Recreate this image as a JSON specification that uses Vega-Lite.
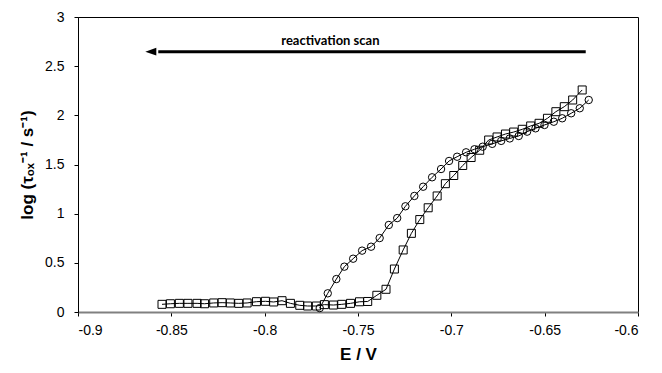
{
  "$schema": "https://vega.github.io/schema/vega-lite/v6.json",
  "width": 560,
  "height": 295,
  "autosize": {"type": "none"},
  "padding": {"left": 78, "top": 17, "right": 24, "bottom": 61},
  "background": "white",
  "config": {
    "view": {"stroke": "#000", "strokeWidth": 1},
    "font": "Arial",
    "axis": {
      "grid": false,
      "labelFont": "Arial",
      "labelFontSize": 14,
      "labelColor": "#000",
      "tickColor": "#000",
      "tickSize": 4,
      "domainColor": "#000",
      "titleFont": "Arial",
      "titleFontSize": 17,
      "titleFontWeight": "bold",
      "titleColor": "#000"
    }
  },
  "datasets": {
    "pts": [
      {"E": -0.855, "logk": 0.078, "series": "sq"},
      {"E": -0.8505, "logk": 0.084, "series": "sq"},
      {"E": -0.8457, "logk": 0.088, "series": "sq"},
      {"E": -0.8411, "logk": 0.088, "series": "sq"},
      {"E": -0.8362, "logk": 0.088, "series": "sq"},
      {"E": -0.8322, "logk": 0.084, "series": "sq"},
      {"E": -0.8273, "logk": 0.092, "series": "sq"},
      {"E": -0.8228, "logk": 0.095, "series": "sq"},
      {"E": -0.8184, "logk": 0.092, "series": "sq"},
      {"E": -0.8139, "logk": 0.088, "series": "sq"},
      {"E": -0.8094, "logk": 0.092, "series": "sq"},
      {"E": -0.8044, "logk": 0.105, "series": "sq"},
      {"E": -0.7996, "logk": 0.109, "series": "sq"},
      {"E": -0.7952, "logk": 0.102, "series": "sq"},
      {"E": -0.7907, "logk": 0.115, "series": "sq"},
      {"E": -0.7862, "logk": 0.088, "series": "sq"},
      {"E": -0.7812, "logk": 0.068, "series": "sq"},
      {"E": -0.777, "logk": 0.061, "series": "sq"},
      {"E": -0.7723, "logk": 0.061, "series": "sq"},
      {"E": -0.768, "logk": 0.075, "series": "sq"},
      {"E": -0.7632, "logk": 0.071, "series": "sq"},
      {"E": -0.7587, "logk": 0.078, "series": "sq"},
      {"E": -0.7540, "logk": 0.088, "series": "sq"},
      {"E": -0.7492, "logk": 0.104, "series": "sq"},
      {"E": -0.7448, "logk": 0.107, "series": "sq"},
      {"E": -0.7399, "logk": 0.17, "series": "sq"},
      {"E": -0.735, "logk": 0.231, "series": "sq"},
      {"E": -0.7305, "logk": 0.437, "series": "sq"},
      {"E": -0.7258, "logk": 0.631, "series": "sq"},
      {"E": -0.7214, "logk": 0.80, "series": "sq"},
      {"E": -0.7169, "logk": 0.94, "series": "sq"},
      {"E": -0.7124, "logk": 1.06, "series": "sq"},
      {"E": -0.7076, "logk": 1.18, "series": "sq"},
      {"E": -0.7032, "logk": 1.305, "series": "sq"},
      {"E": -0.6987, "logk": 1.388, "series": "sq"},
      {"E": -0.6939, "logk": 1.49, "series": "sq"},
      {"E": -0.6894, "logk": 1.571, "series": "sq"},
      {"E": -0.6848, "logk": 1.645, "series": "sq"},
      {"E": -0.68, "logk": 1.749, "series": "sq"},
      {"E": -0.6755, "logk": 1.78, "series": "sq"},
      {"E": -0.671, "logk": 1.81, "series": "sq"},
      {"E": -0.6666, "logk": 1.83, "series": "sq"},
      {"E": -0.662, "logk": 1.858, "series": "sq"},
      {"E": -0.6575, "logk": 1.892, "series": "sq"},
      {"E": -0.653, "logk": 1.919, "series": "sq"},
      {"E": -0.6485, "logk": 1.97, "series": "sq"},
      {"E": -0.644, "logk": 2.037, "series": "sq"},
      {"E": -0.6395, "logk": 2.088, "series": "sq"},
      {"E": -0.635, "logk": 2.156, "series": "sq"},
      {"E": -0.6299, "logk": 2.258, "series": "sq"},
      {"E": -0.7705, "logk": 0.04, "series": "ci"},
      {"E": -0.7662, "logk": 0.19, "series": "ci"},
      {"E": -0.7616, "logk": 0.335, "series": "ci"},
      {"E": -0.7573, "logk": 0.461, "series": "ci"},
      {"E": -0.7526, "logk": 0.542, "series": "ci"},
      {"E": -0.7478, "logk": 0.624, "series": "ci"},
      {"E": -0.743, "logk": 0.664, "series": "ci"},
      {"E": -0.7384, "logk": 0.752, "series": "ci"},
      {"E": -0.7335, "logk": 0.885, "series": "ci"},
      {"E": -0.729, "logk": 0.955, "series": "ci"},
      {"E": -0.7246, "logk": 1.075, "series": "ci"},
      {"E": -0.7198, "logk": 1.18, "series": "ci"},
      {"E": -0.7151, "logk": 1.274, "series": "ci"},
      {"E": -0.7103, "logk": 1.37, "series": "ci"},
      {"E": -0.7055, "logk": 1.454, "series": "ci"},
      {"E": -0.7012, "logk": 1.536, "series": "ci"},
      {"E": -0.6969, "logk": 1.579, "series": "ci"},
      {"E": -0.6921, "logk": 1.624, "series": "ci"},
      {"E": -0.6876, "logk": 1.655, "series": "ci"},
      {"E": -0.6832, "logk": 1.681, "series": "ci"},
      {"E": -0.6781, "logk": 1.71, "series": "ci"},
      {"E": -0.6733, "logk": 1.74, "series": "ci"},
      {"E": -0.6687, "logk": 1.765, "series": "ci"},
      {"E": -0.6639, "logk": 1.79, "series": "ci"},
      {"E": -0.6594, "logk": 1.834, "series": "ci"},
      {"E": -0.6549, "logk": 1.868, "series": "ci"},
      {"E": -0.6501, "logk": 1.902, "series": "ci"},
      {"E": -0.6451, "logk": 1.935, "series": "ci"},
      {"E": -0.6406, "logk": 1.97, "series": "ci"},
      {"E": -0.6358, "logk": 2.021, "series": "ci"},
      {"E": -0.6312, "logk": 2.072, "series": "ci"},
      {"E": -0.6264, "logk": 2.156, "series": "ci"}
    ],
    "arrow": [{"E": -0.628, "E2": -0.857, "logk": 2.647}],
    "head": [{"E": -0.861, "logk": 2.647}],
    "note": [{"E": -0.7648, "logk": 2.715, "label": "reactivation scan"}]
  },
  "layer": [
    {
      "data": {"name": "pts"},
      "mark": {"type": "line", "color": "#000", "strokeWidth": 1},
      "encoding": {
        "x": {
          "field": "E", "type": "quantitative",
          "scale": {"domain": [-0.9, -0.6], "nice": false, "zero": false},
          "axis": {
            "title": "E / V",
            "values": [-0.9, -0.85, -0.8, -0.75, -0.7, -0.65, -0.6],
            "labelExpr": "toString(datum.value)",
            "domainColor": "#808080",
            "domainWidth": 2,
            "labelPadding": 7,
            "titlePadding": 9
          }
        },
        "y": {
          "field": "logk", "type": "quantitative",
          "scale": {"domain": [0, 3], "nice": false},
          "axis": {
            "title": "log (τₒₓ⁻¹ / s⁻¹)",
            "values": [0, 0.5, 1, 1.5, 2, 2.5, 3],
            "labelExpr": "toString(datum.value)",
            "labelPadding": 10,
            "titlePadding": 8
          }
        },
        "detail": {"field": "series", "type": "nominal"}
      }
    },
    {
      "data": {"name": "pts"},
      "mark": {"type": "point", "filled": false, "color": "#000", "strokeWidth": 1, "opacity": 1},
      "encoding": {
        "x": {"field": "E", "type": "quantitative"},
        "y": {"field": "logk", "type": "quantitative"},
        "shape": {"field": "series", "type": "nominal", "scale": {"domain": ["sq", "ci"], "range": ["square", "circle"]}, "legend": null},
        "size": {"field": "series", "type": "nominal", "scale": {"domain": ["sq", "ci"], "range": [64, 55]}, "legend": null}
      }
    },
    {
      "data": {"name": "arrow"},
      "mark": {"type": "rule", "color": "#000", "strokeWidth": 3},
      "encoding": {
        "x": {"field": "E", "type": "quantitative"},
        "x2": {"field": "E2"},
        "y": {"field": "logk", "type": "quantitative"}
      }
    },
    {
      "data": {"name": "head"},
      "mark": {"type": "point", "shape": "M-1,0L1,-0.7L1,0.7Z", "filled": true, "color": "#000", "size": 121, "opacity": 1},
      "encoding": {
        "x": {"field": "E", "type": "quantitative"},
        "y": {"field": "logk", "type": "quantitative"}
      }
    },
    {
      "data": {"name": "note"},
      "mark": {"type": "text", "font": "Lato", "fontWeight": "bold", "fontSize": 13, "color": "#000", "align": "center", "baseline": "alphabetic"},
      "encoding": {
        "x": {"field": "E", "type": "quantitative"},
        "y": {"field": "logk", "type": "quantitative"},
        "text": {"field": "label"}
      }
    }
  ]
}
